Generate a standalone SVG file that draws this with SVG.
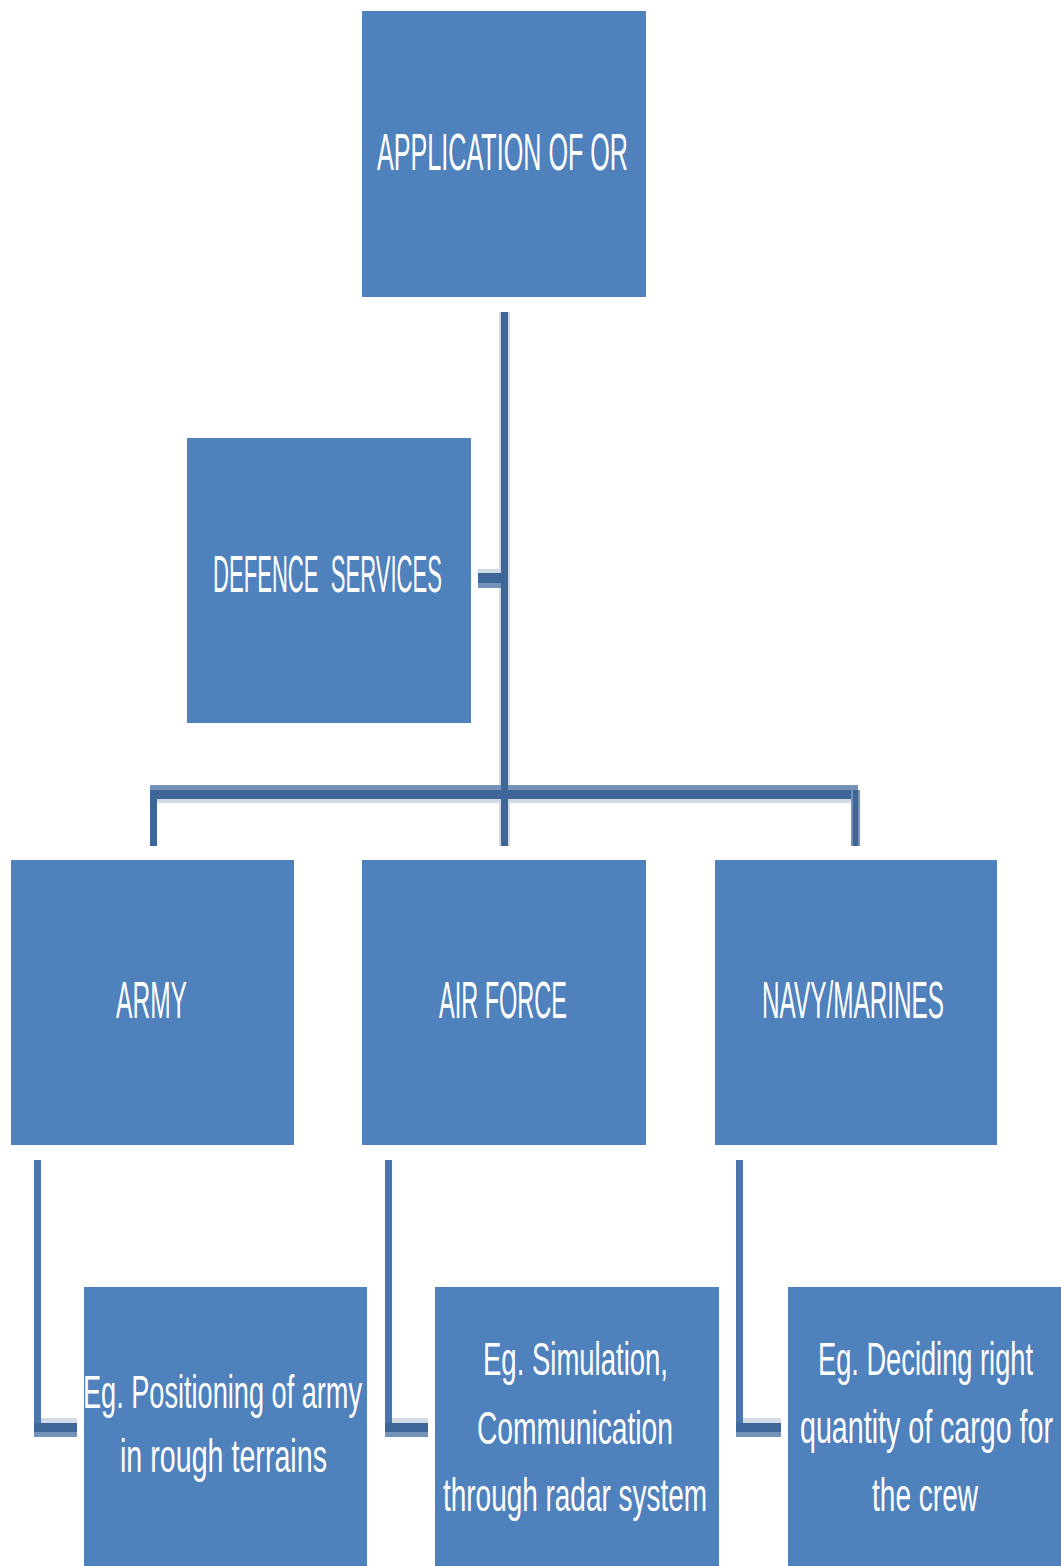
<svg xmlns="http://www.w3.org/2000/svg" width="1061" height="1566" viewBox="0 0 1061 1566">
<style>
.box{fill:#4f81bd}
.t{fill:#ffffff;font-family:"Liberation Sans",Arial,sans-serif;font-size:51px}
.s{fill:#ffffff;font-family:"Liberation Sans",Arial,sans-serif;font-size:47px}
.dk{fill:#3e6699}
.md{fill:#7592b8}
.lt{fill:#d2dae6}
.vl{fill:#4a75ad}
</style>
<rect width="1061" height="1566" fill="#ffffff"/>
<g id="connectors">
<rect class="lt" x="499" y="312" width="11" height="534"/>
<rect class="dk" x="501" y="312" width="7" height="534"/>
<rect class="lt" x="478" y="569" width="23" height="4"/>
<rect class="dk" x="478" y="573" width="26" height="10"/>
<rect class="md" x="478" y="583" width="23" height="5"/>
<rect class="md" x="150" y="785" width="708" height="5"/>
<rect class="lt" x="157" y="799" width="696" height="4"/>
<rect class="dk" x="150" y="790" width="709" height="9"/>
<rect class="dk" x="150" y="790" width="7" height="56"/>
<rect class="md" x="851" y="790" width="9" height="56"/>
<rect class="dk" x="853" y="790" width="5" height="56"/>
<rect class="dk" x="501" y="785" width="7" height="18"/>
<rect class="vl" x="34" y="1160" width="7" height="263"/>
<rect class="lt" x="41" y="1418" width="36" height="5"/>
<rect class="dk" x="34" y="1423" width="43" height="9"/>
<rect class="md" x="34" y="1432" width="43" height="5"/>
<rect class="vl" x="385" y="1160" width="7" height="263"/>
<rect class="lt" x="392" y="1418" width="36" height="5"/>
<rect class="dk" x="385" y="1423" width="43" height="9"/>
<rect class="md" x="385" y="1432" width="43" height="5"/>
<rect class="vl" x="736" y="1160" width="7" height="263"/>
<rect class="lt" x="743" y="1418" width="38" height="5"/>
<rect class="dk" x="736" y="1423" width="45" height="9"/>
<rect class="md" x="736" y="1432" width="45" height="5"/>
</g>
<g id="node-application">
<rect class="box" x="362" y="11" width="284" height="286"/>
<text class="t" x="377" y="170" textLength="251" lengthAdjust="spacingAndGlyphs">APPLICATION OF OR</text>
</g>
<g id="node-defence">
<rect class="box" x="187" y="438" width="284" height="285"/>
<text class="t" x="213" y="592" textLength="229" lengthAdjust="spacingAndGlyphs">DEFENCE&#160; SERVICES</text>
</g>
<g id="node-army">
<rect class="box" x="11" y="860" width="283" height="285"/>
<text class="t" x="116" y="1018" textLength="71" lengthAdjust="spacingAndGlyphs">ARMY</text>
</g>
<g id="node-airforce">
<rect class="box" x="362" y="860" width="284" height="285"/>
<text class="t" x="439" y="1018" textLength="128" lengthAdjust="spacingAndGlyphs">AIR FORCE</text>
</g>
<g id="node-navy">
<rect class="box" x="715" y="860" width="282" height="285"/>
<text class="t" x="762" y="1018" textLength="182" lengthAdjust="spacingAndGlyphs">NAVY/MARINES</text>
</g>
<g id="node-army-eg">
<rect class="box" x="84" y="1287" width="283" height="279"/>
<text class="s" x="83" y="1408" textLength="279" lengthAdjust="spacingAndGlyphs">Eg. Positioning of army</text>
<text class="s" x="120" y="1472" textLength="207" lengthAdjust="spacingAndGlyphs">in rough terrains</text>
</g>
<g id="node-airforce-eg">
<rect class="box" x="435" y="1287" width="284" height="279"/>
<text class="s" x="483" y="1375" textLength="185" lengthAdjust="spacingAndGlyphs">Eg. Simulation,</text>
<text class="s" x="477" y="1444" textLength="196" lengthAdjust="spacingAndGlyphs">Communication</text>
<text class="s" x="443" y="1511" textLength="264" lengthAdjust="spacingAndGlyphs">through radar system</text>
</g>
<g id="node-navy-eg">
<rect class="box" x="788" y="1287" width="273" height="279"/>
<text class="s" x="818" y="1375" textLength="215" lengthAdjust="spacingAndGlyphs">Eg. Deciding right</text>
<text class="s" x="800" y="1443" textLength="253" lengthAdjust="spacingAndGlyphs">quantity of cargo for</text>
<text class="s" x="872" y="1511" textLength="106" lengthAdjust="spacingAndGlyphs">the crew</text>
</g>
</svg>
